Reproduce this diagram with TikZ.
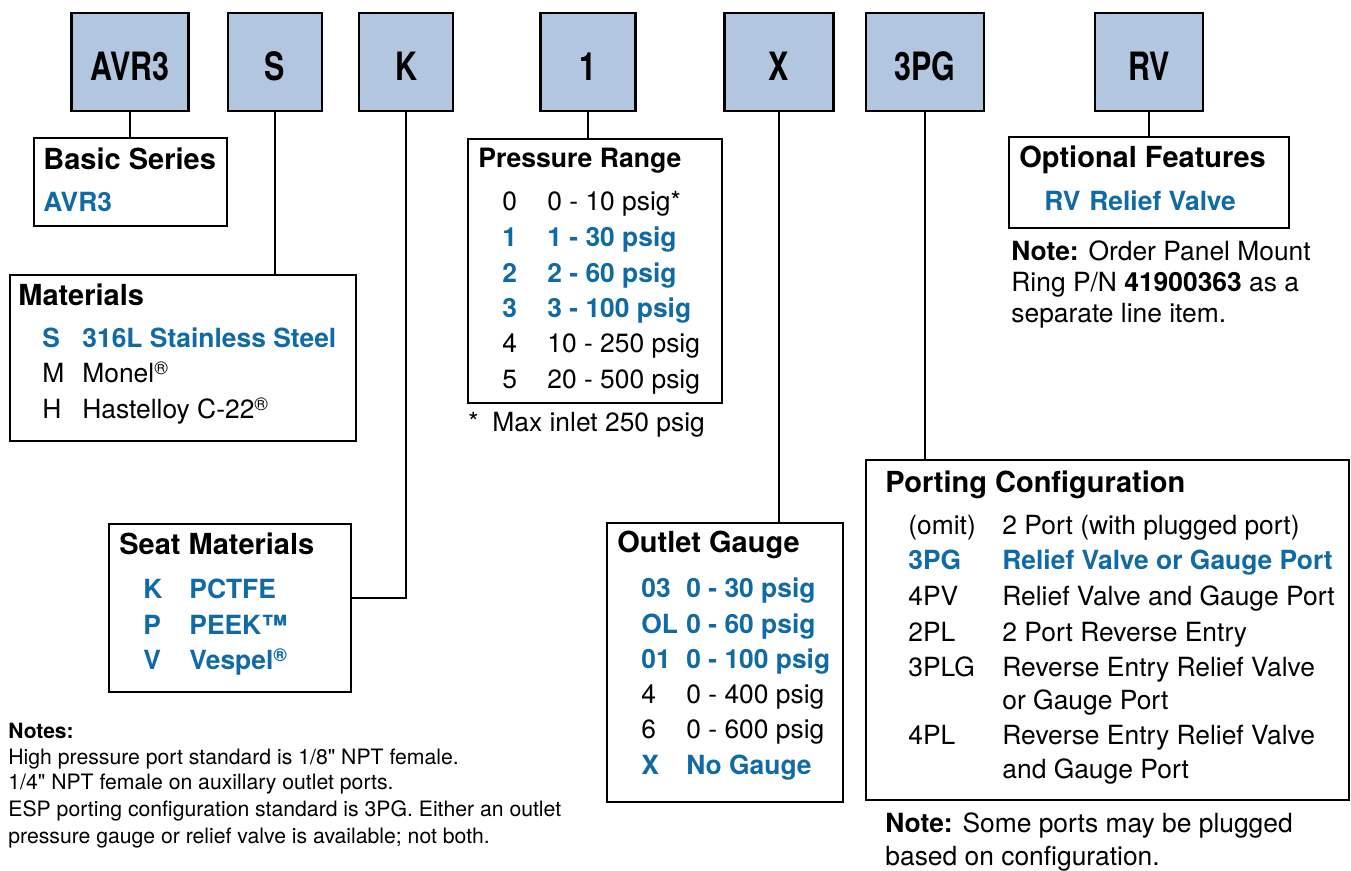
\documentclass[tikz,border=0pt]{standalone}
\usepackage{fontspec}
\setmainfont{TeX Gyre Heros}[Ligatures=TeXOff]
\usepackage{graphicx}
\definecolor{codeblue}{RGB}{16,106,166}
\definecolor{keyfill}{RGB}{178,198,224}
\tikzset{
    keybox/.style={draw, line width=1.2pt, fill=keyfill, minimum height=49pt,
        inner sep=0pt, text height=18.5pt, text depth=0pt,
        font=\fontsize{19.5}{20}\selectfont\bfseries},
    optbox/.style={draw, line width=1.2pt, anchor=north west, inner sep=0pt},
    txt/.style={anchor=base west, inner sep=0pt},
    head/.style={txt, font=\fontsize{14.5}{16}\selectfont\bfseries},
    entry/.style={txt, font=\fontsize{13.2}{15}\selectfont},
    pick/.style={txt, font=\fontsize{13.2}{15}\selectfont\bfseries, text=codeblue},
    small/.style={txt, font=\fontsize{10.6}{13}\selectfont},
    conn/.style={line width=1pt}
}
\newcommand{\cond}[1]{\scalebox{0.78}[1]{#1}}
\newcommand{\reg}{\textsuperscript{®}}

\begin{document}
\begin{tikzpicture}[x=0.5pt, y=-0.5pt]
    \useasboundingbox (0,0) rectangle (1351,871);

    % Ordering code boxes along the top
    \node[keybox, minimum width=58.5pt] (avr) at (130,62)  {\cond{AVR3}};
    \node[keybox, minimum width=47pt]   (s)   at (275,62)  {\cond{S}};
    \node[keybox, minimum width=47pt]   (k)   at (406,62)  {\cond{K}};
    \node[keybox, minimum width=47.5pt] (one) at (588,62)  {\cond{1}};
    \node[keybox, minimum width=54.5pt] (x)   at (779,62)  {\cond{X}};
    \node[keybox, minimum width=59pt]   (pg)  at (925,62)  {\cond{3PG}};
    \node[keybox, minimum width=54pt]   (rv)  at (1149,62) {\cond{RV}};

    % Option tables (frames only, contents below)
    \node[optbox, minimum width=96.5pt, minimum height=44pt]  (basic) at (33,137)  {};
    \node[optbox, minimum width=173pt,  minimum height=83pt]  (mat)   at (9,274)   {};
    \node[optbox, minimum width=121pt,  minimum height=84pt]  (seat)  at (108,523) {};
    \node[optbox, minimum width=127pt,  minimum height=132pt] (press) at (467,138) {};
    \node[optbox, minimum width=118pt,  minimum height=139.5pt] (gauge) at (606,522) {};
    \node[optbox, minimum width=241.5pt, minimum height=170pt] (port) at (865,459) {};
    \node[optbox, minimum width=140pt,  minimum height=45.5pt] (opt)  at (1008,136) {};

    % Connectors from codes to tables
    \draw[conn] (avr.south) -- (avr.south |- basic.north);
    \draw[conn] (s.south)   -- (s.south |- mat.north);
    \draw[conn] (k.south)   |- ([yshift=5pt]seat.east);
    \draw[conn] (one.south) -- (one.south |- press.north);
    \draw[conn] (x.south)   -- (x.south |- gauge.north);
    \draw[conn] (pg.south)  -- (pg.south |- port.north);
    \draw[conn] (rv.south)  -- (rv.south |- opt.north);

    % Basic series
    \node[head] (basic-hd) at (43,170) {Basic Series};
    \node[pick] (basic-av) at (43,212) {AVR3};

    % Materials
    \node[head] (mat-hd) at (18,306) {Materials};
    \foreach \c/\t/\y/\s in {S/316L Stainless Steel/348/pick,
                             M/{Monel\reg}/383/entry,
                             H/{Hastelloy C-22\reg}/419/entry} {
        \node[\s] (mat-c\y) at (42,\y) {\c};
        \node[\s] (mat-t\y) at (82,\y) {\t};
    }

    % Seat materials
    \node[head] (seat-hd) at (119,555) {Seat Materials};
    \foreach \c/\t/\y in {K/PCTFE/599, P/PEEK™/635, V/{Vespel\reg}/670} {
        \node[pick] (seat-c\y) at (143,\y) {\c};
        \node[pick] (seat-t\y) at (189,\y) {\t};
    }

    % Pressure range
    \node[head, font=\fontsize{13.3}{15}\selectfont\bfseries] (press-hd) at (478,168) {Pressure Range};
    \foreach \c/\t/\y/\s in {0/0 - 10 psig*/211/entry, 1/1 - 30 psig/247/pick,
                             2/2 - 60 psig/283/pick, 3/3 - 100 psig/318/pick,
                             4/10 - 250 psig/353/entry, 5/20 - 500 psig/389/entry} {
        \node[\s] (press-c\y) at (502,\y) {\c};
        \node[\s] (press-t\y) at (547,\y) {\t};
    }
    \node[entry] (press-st) at (468,432) {*};
    \node[entry] (press-ft) at (492,432) {Max inlet 250 psig};

    % Outlet gauge
    \node[head] (gauge-hd) at (617,553) {Outlet Gauge};
    \foreach \c/\t/\y/\s in {03/0 - 30 psig/598/pick, OL/0 - 60 psig/634/pick,
                             01/0 - 100 psig/669/pick, 4/0 - 400 psig/704/entry,
                             6/0 - 600 psig/739/entry, X/No Gauge/775/pick} {
        \node[\s] (gauge-c\y) at (641,\y) {\c};
        \node[\s] (gauge-t\y) at (686,\y) {\t};
    }

    % Porting configuration
    \node[head] (port-hd) at (885,493) {Porting Configuration};
    \node[entry] (port-c535) at (908,535) {(omit)};
    \node[entry] (port-t535) at (1002,535) {2 Port (with plugged port)};
    \foreach \c/\t/\y/\s in {3PG/Relief Valve or Gauge Port/570/pick,
                             4PV/Relief Valve and Gauge Port/606/entry,
                             2PL/2 Port Reverse Entry/642/entry,
                             3PLG/Reverse Entry Relief Valve/677/entry,
                             4PL/Reverse Entry Relief Valve/745/entry} {
        \node[\s] (port-c\y) at (908,\y) {\c};
        \node[\s] (port-t\y) at (1002,\y) {\t};
    }
    \node[entry] (port-t710) at (1002,710) {or Gauge Port};
    \node[entry] (port-t778) at (1002,778) {and Gauge Port};
    \node[entry] (port-n1) at (885,833) {\textbf{Note:} Some ports may be plugged};
    \node[entry] (port-n2) at (885,865) {based on configuration.};

    % Optional features
    \node[head] (opt-hd) at (1019,168) {Optional Features};
    \node[pick] (opt-c) at (1044,211) {RV};
    \node[pick] (opt-t) at (1089,211) {Relief Valve};
    \node[entry] (opt-n1) at (1011,261) {\textbf{Note:} Order Panel Mount};
    \node[entry] (opt-n2) at (1011,292) {Ring P/N \textbf{41900363} as a};
    \node[entry] (opt-n3) at (1011,323) {separate line item.};

    % General notes
    \node[small, font=\fontsize{10.5}{13}\selectfont\bfseries] (notes-hd) at (8,739) {Notes:};
    \node[small] (notes-1) at (8,765) {High pressure port standard is 1/8" NPT female.};
    \node[small] (notes-2) at (8,790) {1/4" NPT female on auxillary outlet ports.};
    \node[small] (notes-3) at (8,817) {ESP porting configuration standard is 3PG. Either an outlet};
    \node[small] (notes-4) at (8,843) {pressure gauge or relief valve is available; not both.};
\end{tikzpicture}
\end{document}
